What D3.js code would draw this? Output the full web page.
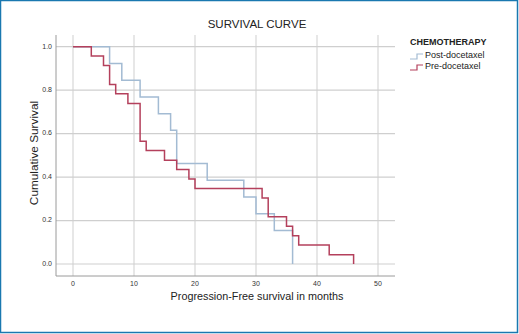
<!DOCTYPE html>
<html>
<head>
<meta charset="utf-8">
<script src="https://cdn.jsdelivr.net/npm/d3@7"></script>
<style>
  html, body { margin: 0; padding: 0; background: #fff; }
  svg { display: block; font-family: "Liberation Sans", Arial, sans-serif; }
</style>
</head>
<body>
<svg id="chart" width="519" height="334"></svg>
<script>
"use strict";

// Kaplan-Meier steps (months, cumulative survival)
const postTimes = [0, 6, 8, 11, 14, 16, 17, 22, 28, 30, 33, 36];
const postSurv  = [1.0, 0.923, 0.846, 0.769, 0.692, 0.615, 0.462, 0.385, 0.308, 0.231, 0.154, 0.0];

const preTimes = [0, 3, 5, 6, 7, 9, 11, 12, 15, 17, 19, 20, 31, 32, 35, 36, 37, 42, 46];
const preSurv  = [1.0, 0.957, 0.913, 0.826, 0.783, 0.739, 0.565, 0.522, 0.478, 0.435, 0.391, 0.348,
                  0.304, 0.217, 0.174, 0.130, 0.087, 0.043, 0.0];

const seriesNames = ["Post-docetaxel", "Pre-docetaxel"];
const xTicks = [0, 10, 20, 30, 40, 50];
const yTicks = [0.0, 0.2, 0.4, 0.6, 0.8, 1.0];

const COLORS = { "Post-docetaxel": "#a3bbd3", "Pre-docetaxel": "#b4405c" };
const GRID = "#cfcfcf";

const width = 519, height = 334;
const svg = d3.select("#chart");

// outer frame
svg.append("rect")
  .attr("x", 0.5).attr("y", 0.5)
  .attr("width", width - 2).attr("height", height - 2)
  .attr("fill", "none")
  .attr("stroke", "#1a78b0")
  .attr("stroke-width", 1.5);

const x = d3.scaleLinear().domain([0, 50]).range([73, 378]);
const y = d3.scaleLinear().domain([0, 1]).range([264, 46.7]);

const plotLeft = 56, plotRight = 395, plotTop = 35, plotBottom = 276;

// grid
svg.append("g")
  .selectAll("line")
  .data(yTicks)
  .join("line")
  .attr("x1", plotLeft).attr("x2", plotRight)
  .attr("y1", d => y(d)).attr("y2", d => y(d))
  .attr("stroke", GRID).attr("stroke-width", 1.2);

svg.append("g")
  .selectAll("line")
  .data(xTicks)
  .join("line")
  .attr("x1", d => x(d)).attr("x2", d => x(d))
  .attr("y1", plotTop).attr("y2", plotBottom)
  .attr("stroke", GRID).attr("stroke-width", 1);

// axes lines
svg.append("line")
  .attr("x1", plotLeft).attr("x2", plotLeft)
  .attr("y1", plotTop).attr("y2", plotBottom)
  .attr("stroke", "#9a9a9a").attr("stroke-width", 1);
svg.append("line")
  .attr("x1", plotLeft).attr("x2", plotRight)
  .attr("y1", plotBottom).attr("y2", plotBottom)
  .attr("stroke", "#9a9a9a").attr("stroke-width", 1);

// tick labels
svg.append("g")
  .selectAll("text")
  .data(yTicks)
  .join("text")
  .attr("x", 52)
  .attr("y", d => y(d))
  .attr("text-anchor", "end")
  .attr("dominant-baseline", "middle")
  .attr("font-size", 7)
  .attr("fill", "#333")
  .text(d => d3.format(".1f")(d));

svg.append("g")
  .selectAll("text")
  .data(xTicks)
  .join("text")
  .attr("x", d => x(d))
  .attr("y", 284)
  .attr("text-anchor", "middle")
  .attr("dominant-baseline", "middle")
  .attr("font-size", 7)
  .attr("fill", "#333")
  .text(d => d);

// curves
const line = d3.line()
  .x(d => x(d[0]))
  .y(d => y(d[1]))
  .curve(d3.curveStepAfter);

const series = [
  { name: "Post-docetaxel", pts: d3.zip(postTimes, postSurv) },
  { name: "Pre-docetaxel", pts: d3.zip(preTimes, preSurv) }
];

svg.append("g")
  .selectAll("path")
  .data(series)
  .join("path")
  .attr("d", d => line(d.pts))
  .attr("fill", "none")
  .attr("stroke", d => COLORS[d.name])
  .attr("stroke-width", 1.5);

// titles
svg.append("text")
  .attr("x", 257).attr("y", 25)
  .attr("text-anchor", "middle")
  .attr("dominant-baseline", "middle")
  .attr("font-size", 11.5)
  .attr("fill", "#222")
  .text("SURVIVAL CURVE");

svg.append("text")
  .attr("x", 257).attr("y", 297)
  .attr("text-anchor", "middle")
  .attr("dominant-baseline", "middle")
  .attr("font-size", 10.8)
  .attr("fill", "#222")
  .text("Progression-Free survival in months");

svg.append("text")
  .attr("transform", "translate(35,153) rotate(-90)")
  .attr("text-anchor", "middle")
  .attr("dominant-baseline", "middle")
  .attr("font-size", 11.8)
  .attr("fill", "#222")
  .text("Cumulative Survival");

// legend
const legend = svg.append("g").attr("transform", "translate(410,43)");
legend.append("text")
  .attr("x", 0).attr("y", 0)
  .attr("dominant-baseline", "middle")
  .attr("font-size", 9)
  .attr("font-weight", "bold")
  .attr("fill", "#222")
  .text("CHEMOTHERAPY");

legend.selectAll("g.item")
  .data(seriesNames)
  .join("g")
  .attr("class", "item")
  .attr("transform", (d, i) => `translate(0,${13 + i * 11})`)
  .call(g => g.append("path")
    .attr("d", "M0,3 H7 V-2 H13")
    .attr("fill", "none")
    .attr("stroke", d => COLORS[d])
    .attr("stroke-width", 1.2))
  .call(g => g.append("text")
    .attr("x", 15).attr("y", 0)
    .attr("dominant-baseline", "middle")
    .attr("font-size", 9)
    .attr("fill", "#222")
    .text(d => d));
</script>
</body>
</html>
